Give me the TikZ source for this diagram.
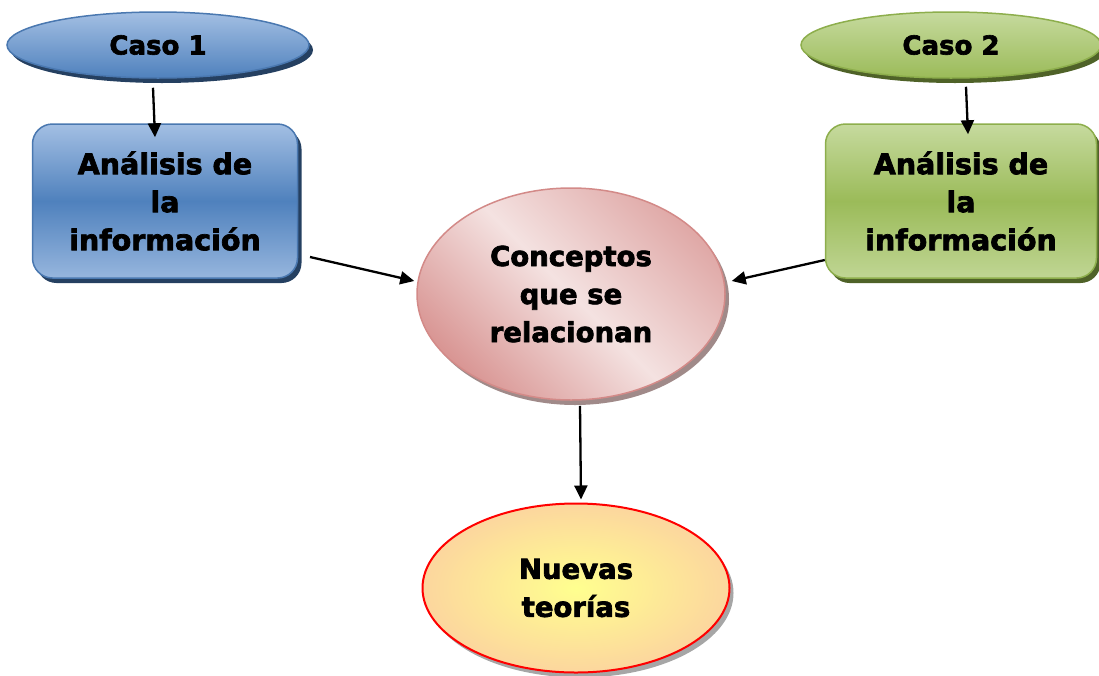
\documentclass[tikz,border=0pt]{standalone}
\usepackage{fontspec}
\setmainfont{DejaVu Sans}[BoldFeatures={FakeBold=2.5}]
\usetikzlibrary{shapes.geometric,shadows,arrows.meta}
\definecolor{bluL}{HTML}{A3BFE3}
\definecolor{bluM}{HTML}{4F81BD}
\definecolor{bluB}{HTML}{4A78B0}
\definecolor{bluS}{HTML}{254061}
\definecolor{grnL}{HTML}{C6DA9E}
\definecolor{grnM}{HTML}{9BBB59}
\definecolor{grnB}{HTML}{8DAE4C}
\definecolor{grnS}{HTML}{4F6228}
\definecolor{pnkL}{HTML}{F4E2E1}
\definecolor{pnkD}{HTML}{D99694}
\definecolor{pnkB}{HTML}{D38A88}
\definecolor{pnkS}{HTML}{A08A89}
\definecolor{yelI}{HTML}{FFFF8F}
\definecolor{yelO}{HTML}{FCD69E}
\definecolor{graS}{HTML}{A6A6A6}
\tikzset{
  lbl/.style={font=\fontsize{27.5}{38}\selectfont\bfseries, align=center, text=black},
  caso/.style={ellipse, lbl, font=\fontsize{26}{38}\selectfont\bfseries, line width=1.5pt, inner sep=0pt},
  boxx/.style={rounded corners=20pt, lbl, font=\fontsize{28.5}{38}\selectfont\bfseries, line width=1.5pt, inner sep=0pt},
  arr/.style={-{Triangle[length=14pt,width=13pt]}, line width=2.3pt, black},
}
\begin{document}
\begin{tikzpicture}[x=1pt,y=-1pt]
\useasboundingbox (0,0) rectangle (1099,675);
% Caso 1
\node[caso, draw=bluB, top color=bluL, bottom color=bluM,
      minimum width=302, minimum height=66,
      drop shadow={shadow xshift=4pt, shadow yshift=-5pt, fill=bluS, opacity=1}]
      (c1) at (158,45) {Caso 1};
% Caso 2
\node[caso, draw=grnB, top color=grnL, bottom color=grnM,
      minimum width=300, minimum height=66,
      drop shadow={shadow xshift=4pt, shadow yshift=-5pt, fill=grnS, opacity=1}]
      (c2) at (951,45) {Caso 2};
% Box 1
\node[boxx, draw=bluB, top color=bluL, bottom color=bluL!85!bluM, middle color=bluM,
      minimum width=265, minimum height=154,
      drop shadow={shadow xshift=4pt, shadow yshift=-5pt, fill=bluS, opacity=1}]
      (b1) at (165,201) {Análisis de\\la\\información};
% Box 2
\node[boxx, draw=grnB, top color=grnL, bottom color=grnL!85!grnM, middle color=grnM,
      minimum width=271, minimum height=154,
      drop shadow={shadow xshift=4pt, shadow yshift=-5pt, fill=grnS, opacity=1}]
      (b2) at (961,201) {Análisis de\\la\\información};
% Conceptos
\node[ellipse, lbl, draw=pnkB, line width=1.5pt, inner sep=0pt,
      left color=pnkD!75!pnkL, right color=pnkD, middle color=pnkL, shading angle=-45,
      minimum width=308, minimum height=212,
      drop shadow={shadow xshift=4pt, shadow yshift=-5pt, fill=pnkS, opacity=1}]
      (con) at (571,294) {Conceptos\\que se\\relacionan};
% Nuevas
\node[ellipse, lbl, draw=red, line width=2pt, inner sep=0pt,
      inner color=yelI, outer color=yelO,
      minimum width=307, minimum height=169,
      drop shadow={shadow xshift=4pt, shadow yshift=-5pt, fill=graS, opacity=1}]
      (nue) at (576,588) {Nuevas\\teorías};
% connectors
\coordinate (s1) at (310,257);
\draw[arr] ([shift={(-5,9)}]c1.south) -- ([shift={(-10,14)}]b1.north);
\draw[arr] ([shift={(15,8)}]c2.south) -- ([shift={(7,11)}]b2.north);
\draw[arr] (s1) -- ([shift={(-2,-13)}]con.west);
\draw[arr] ([shift={(0,59)}]b2.west) -- ([shift={(6,-13)}]con.east);
\draw[arr] ([shift={(9,5)}]con.south) -- ([shift={(5,-3)}]nue.north);
\end{tikzpicture}
\end{document}
